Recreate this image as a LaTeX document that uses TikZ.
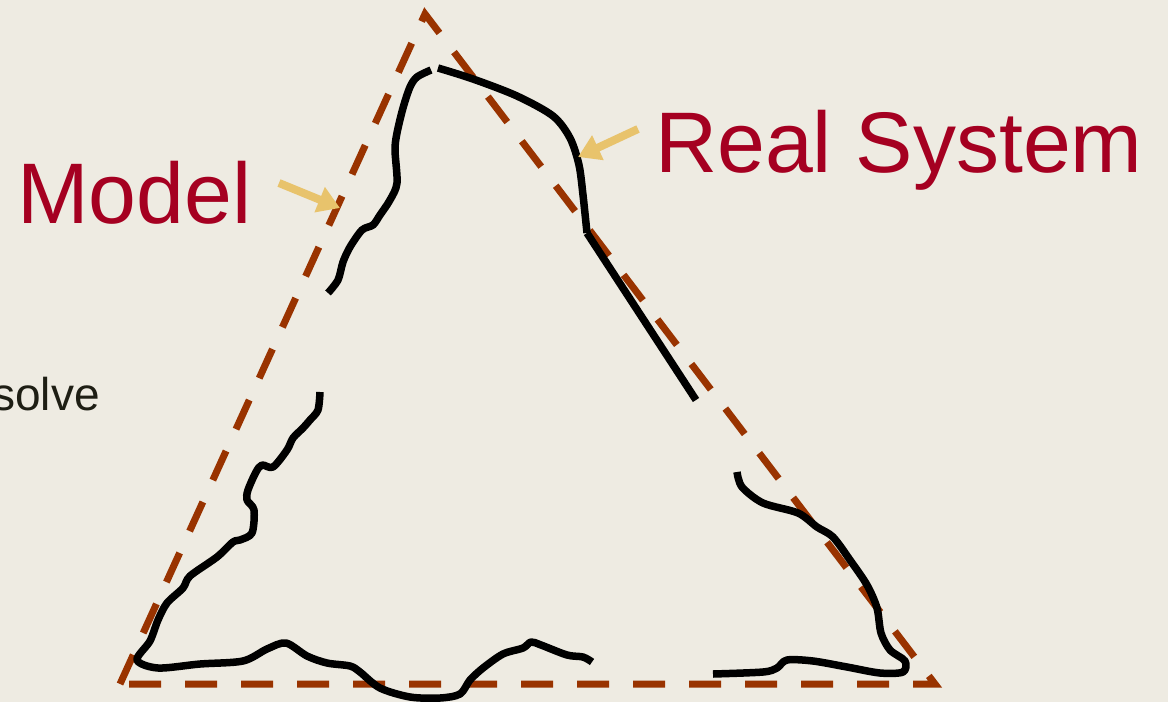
\documentclass[tikz,border=0pt]{standalone}
\usepackage{fontspec}
\setmainfont{Liberation Sans}
\usetikzlibrary{arrows.meta}
\definecolor{bgcol}{HTML}{EEEBE2}
\definecolor{labelred}{HTML}{A50021}
\definecolor{rust}{HTML}{993300}
\definecolor{pointer}{HTML}{E8C36C}
\definecolor{inktext}{HTML}{1E1E14}
\tikzset{
  bound/.style={rust, line width=7pt, dash pattern=on 32pt off 24pt, miter limit=10},
  outline/.style={black, line width=7.5pt, line join=round},
  pointerarrow/.style={pointer, line width=8pt, -{Triangle[width=26pt,length=22pt]}},
  biglabel/.style={labelred, font=\fontsize{86}{86}\selectfont, inner sep=0pt, anchor=base west},
}
\begin{document}
\begin{tikzpicture}[x=1pt, y=-1pt]
  \fill[bgcol] (0,0) rectangle (1168,702);
  \useasboundingbox (0,0) rectangle (1168,702);

  % idealised triangle
  \draw[bound] (120,684) -- (425,14) -- (935,684) -- cycle;

  % irregular outline, drawn in five pieces
  \draw[outline] plot[smooth, tension=0.5] coordinates {
    (431,70) (417,77) (410,87) (403,108) (397,133) (395,150) (397,183) (390,200)
    (380,215) (373,225) (362,230) (350,247) (343,262) (338,280) (328,293)};
  \draw[outline] plot[smooth, tension=0.5] coordinates {
    (438,68) (473,79) (517,96) (553,116) (570,138) (579,165) (583,195) (587,233)};
  \draw[outline] (587,233) -- (696,400);
  \draw[outline] plot[smooth, tension=0.5] coordinates {
    (737,472) (742,487) (763,503) (798,513) (817,527) (833,537) (850,560)
    (867,585) (877,608) (881,633) (890,650) (905,661) (903,672) (880,673)
    (847,667) (813,661) (787,660) (777,668) (763,672) (713,674)};
  \draw[outline] plot[smooth, tension=0.5] coordinates {
    (320,392) (318,410) (310,420) (303,428) (293,438) (287,450) (273,467)
    (262,465) (256,472) (248,490) (247,500) (254,510) (252,533) (240,540)
    (233,542) (217,557) (190,576) (183,588) (167,603) (158,620) (150,641)
    (137,660) (158,668) (200,664) (243,661) (267,649) (286,643) (307,656)
    (327,663) (350,666) (360,672) (380,688) (410,697) (440,698) (460,694)
    (470,680) (483,668) (503,654) (523,648) (531,642) (541,645) (567,655)
    (583,657) (592,662)};

  % labels
  \node[biglabel] (model) at (17,223) {Model};
  \node[biglabel] (realsys) at (655,172) {Real System};
  \node[inktext, font=\fontsize{46}{46}\selectfont, inner sep=0pt, anchor=base east]
    (solve) at (100,410) {solve};

  % pointers
  \coordinate (mtail) at (279,183);
  \coordinate (mtip) at (340,208);
  \coordinate (rtail) at (638,129);
  \coordinate (rtip) at (578,157);
  \draw[pointerarrow] (mtail) -- (mtip);
  \draw[pointerarrow] (rtail) -- (rtip);
\end{tikzpicture}
\end{document}
